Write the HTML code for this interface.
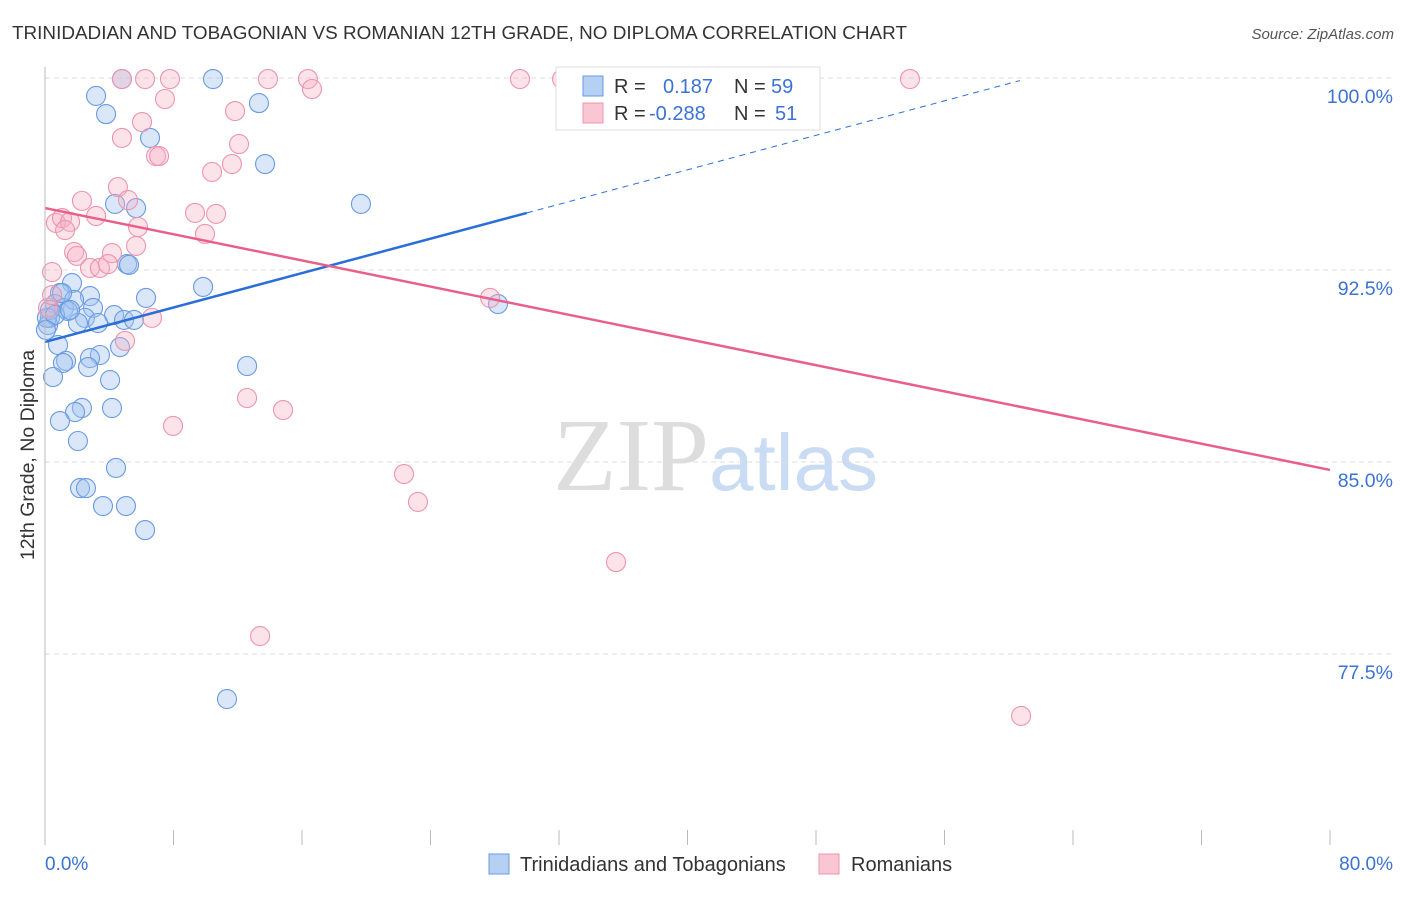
<!DOCTYPE html>
<html><head><meta charset="utf-8"><style>
body{margin:0;background:#fff;font-family:"Liberation Sans",sans-serif}
</style></head><body>
<svg id="c" width="1406" height="892" xmlns="http://www.w3.org/2000/svg">
<text x="12" y="39" font-size="18" fill="#333" textLength="895" lengthAdjust="spacingAndGlyphs">TRINIDADIAN AND TOBAGONIAN VS ROMANIAN 12TH GRADE, NO DIPLOMA CORRELATION CHART</text>
<text x="1394" y="39" font-size="15" fill="#555" font-style="italic" text-anchor="end">Source: ZipAtlas.com</text>
<text x="553" y="490" font-size="104" fill="#ddd" font-family="Liberation Serif">ZIP<tspan fill="#c9dcf3" font-family="Liberation Sans" font-size="80">atlas</tspan></text>
<g id="grid"></g><g id="pts"></g><g id="lines"></g>
<line x1="45" y1="67" x2="45" y2="845" stroke="#bbb"/>
<text transform="translate(34,455) rotate(-90)" font-size="19.5" fill="#333" text-anchor="middle">12th Grade, No Diploma</text>
<text x="45" y="870" font-size="19" fill="#3b73d1">0.0%</text>
<text x="1393" y="870" font-size="19" fill="#3b73d1" text-anchor="end">80.0%</text>
<g>
<rect x="556" y="67" width="264" height="63" fill="#fff" stroke="#ddd"/>
<rect x="583" y="76" width="20" height="20" fill="#b5d0f3" stroke="#6a9ae0"/>
<rect x="583" y="103" width="20" height="20" fill="#f9c6d4" stroke="#ec94ae"/>
<text x="614" y="93" font-size="20" fill="#333">R = <tspan x="663" fill="#3b73d1">0.187</tspan><tspan x="734" fill="#333">N = </tspan><tspan x="771" fill="#3b73d1">59</tspan></text>
<text x="614" y="120" font-size="20" fill="#333">R = <tspan x="649" fill="#3b73d1">-0.288</tspan><tspan x="734" fill="#333">N = </tspan><tspan x="775" fill="#3b73d1">51</tspan></text>
</g>
<g>
<rect x="489" y="854" width="20" height="20" fill="#b5d0f3" stroke="#6a9ae0"/>
<text x="520" y="871" font-size="20" fill="#333">Trinidadians and Tobagonians</text>
<rect x="819" y="854" width="20" height="20" fill="#f9c6d4" stroke="#ec94ae"/>
<text x="851" y="871" font-size="20" fill="#333">Romanians</text>
</g>
</svg>
<script>
const yTicks=[100,92.5,85,77.5];
const yTickLabels=["100.0%","92.5%","85.0%","77.5%"];
const xTicks=[0,8,16,24,32,40,48,56,64,72,80];
const blueX=[4.79,10.46,3.18,3.80,13.32,6.54,13.70,19.67,4.36,5.67,5.11,5.23,9.84,6.29,1.68,2.80,0.93,0.62,1.18,1.81,2.99,1.43,0.31,0.19,2.49,4.30,2.05,3.30,4.92,5.54,28.20,0.81,4.67,3.42,2.80,1.31,1.12,2.68,12.58,0.50,4.05,2.30,1.87,4.17,0.93,2.05,4.42,2.18,2.55,3.61,5.04,6.23,11.33,0.31,0.12,0.62,0.06,1.06,1.56];
const blueY=[99.96,99.96,99.30,98.59,99.02,97.66,96.64,95.08,95.08,94.92,92.73,92.70,91.84,91.41,91.99,91.48,91.60,91.17,91.02,91.33,91.02,90.90,90.63,90.35,90.63,90.74,90.43,90.43,90.55,90.55,91.17,89.57,89.49,89.18,89.06,88.95,88.87,88.71,88.75,88.32,88.20,87.11,86.95,87.11,86.60,85.82,84.77,83.98,83.98,83.28,83.28,82.34,75.74,90.94,90.63,90.74,90.16,91.60,90.94];
const pinkX=[4.79,6.23,7.78,13.88,16.37,16.62,29.57,32.19,53.85,7.47,11.83,6.04,4.79,12.08,6.91,7.10,10.40,11.64,4.54,5.17,2.30,9.34,10.65,0.68,1.06,1.56,1.25,3.18,5.79,9.96,5.67,1.81,1.99,4.17,2.80,3.42,3.92,0.44,27.71,6.66,4.98,12.58,14.82,7.97,22.35,23.22,35.55,13.39,60.77,0.19,0.44];
const pinkY=[99.96,99.96,99.96,99.96,99.96,99.57,99.96,99.96,99.96,99.18,98.71,98.28,97.66,97.42,96.95,96.95,96.33,96.64,95.74,95.23,95.20,94.73,94.69,94.34,94.53,94.38,94.06,94.61,94.18,93.91,93.44,93.20,93.05,93.16,92.58,92.58,92.73,92.42,91.41,90.63,89.73,87.50,87.03,86.41,84.53,83.44,81.09,78.20,75.08,91.02,91.52];
const blueTrend=[0,89.69,30.0,94.73,60.7,99.9];
const pinkTrend=[0,94.92,80,84.69];
const X=v=>45+v/80*1285, Y=v=>78+(100-v)/7.5*192;
const NS="http://www.w3.org/2000/svg";
function mk(p,t,a){const e=document.createElementNS(NS,t);for(const k in a)e.setAttribute(k,a[k]);p.appendChild(e);return e;}
const g=document.getElementById('grid');
yTicks.forEach((v,i)=>{
 const l=mk(g,'line',{x1:45,x2:1394,y1:Y(v),y2:Y(v),stroke:'#ddd','stroke-dasharray':'5,4'});
 
 
 const t=mk(g,'text',{x:1393,y:Y(v)+25,'font-size':19.5,fill:'#3b73d1','text-anchor':'end'});
 t.textContent=yTickLabels[i];
 
 
});
xTicks.forEach(v=>{
 const l=mk(g,'line',{x1:X(v),x2:X(v),y1:830,y2:845,stroke:'#bbb'});
 
 
});
const p=document.getElementById('pts');
blueX.forEach((v,i)=>{
 const c=mk(p,'circle',{cx:X(v),cy:Y(blueY[i]),r:9.5,fill:'rgba(160,196,240,0.4)',stroke:'#6a9ae0','stroke-width':1.1});
 
 
});
pinkX.forEach((v,i)=>{
 const c=mk(p,'circle',{cx:X(v),cy:Y(pinkY[i]),r:9.5,fill:'rgba(245,175,196,0.35)',stroke:'#ec94ae','stroke-width':1.1});
 
 
});
const L=document.getElementById('lines');
const b1=mk(L,'line',{x1:X(blueTrend[0]),y1:Y(blueTrend[1]),x2:X(blueTrend[2]),y2:Y(blueTrend[3]),stroke:'#2a6fd6','stroke-width':2.5});


const b2=mk(L,'line',{x1:X(blueTrend[2]),y1:Y(blueTrend[3]),x2:X(blueTrend[4]),y2:Y(blueTrend[5]),stroke:'#2a6fd6','stroke-width':1,'stroke-dasharray':'6,5'});


const p1=mk(L,'line',{x1:X(pinkTrend[0]),y1:Y(pinkTrend[1]),x2:X(pinkTrend[2]),y2:Y(pinkTrend[3]),stroke:'#e8608a','stroke-width':2.5});


</script>
</body></html>
